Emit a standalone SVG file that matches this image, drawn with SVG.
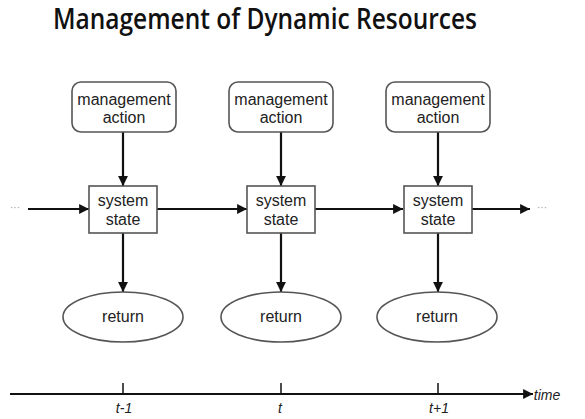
<svg xmlns="http://www.w3.org/2000/svg" width="585" height="419" viewBox="0 0 585 419">
<style>
.box{fill:#fff;stroke:#555;stroke-width:1.6}
.lbl{font-family:"Liberation Sans",Arial,sans-serif;font-size:16px;fill:#222;text-anchor:middle}
.ax{font-family:"Liberation Sans",Arial,sans-serif;font-style:italic;font-size:14px;fill:#222;text-anchor:middle}
.edge{stroke:#111;stroke-width:2.2;fill:none;marker-end:url(#ah)}
.dots{font-family:"Liberation Sans",Arial,sans-serif;font-size:10px;fill:#999}
</style>
<defs>
<marker id="ah" viewBox="0 0 10 10" refX="10" refY="5" markerWidth="4.5" markerHeight="4.5" orient="auto" markerUnits="strokeWidth">
<path d="M0,0 L10,5 L0,10 z" fill="#111"/>
</marker>
</defs>
<rect width="585" height="419" fill="#fff"/>
<text x="265" y="29" font-family="'Open Sans',sans-serif" font-size="28" font-weight="600" fill="#111" text-anchor="middle" textLength="424" lengthAdjust="spacingAndGlyphs">Management of Dynamic Resources</text>

<g id="connectors">
<line class="edge" x1="28" y1="209" x2="89" y2="209"/>
<line class="edge" x1="157" y1="209" x2="247" y2="209"/>
<line class="edge" x1="315" y1="209" x2="403" y2="209"/>
<line class="edge" x1="472" y1="209" x2="530" y2="209"/>
<line class="edge" x1="123" y1="132" x2="123" y2="186"/>
<line class="edge" x1="281" y1="132" x2="281" y2="186"/>
<line class="edge" x1="438" y1="132" x2="438" y2="186"/>
<line class="edge" x1="123" y1="233" x2="123" y2="292"/>
<line class="edge" x1="281" y1="233" x2="281" y2="292"/>
<line class="edge" x1="438" y1="233" x2="438" y2="292"/>
<line class="edge" x1="10" y1="394" x2="533" y2="394"/>
<line x1="123" y1="383" x2="123" y2="394" stroke="#111" stroke-width="1.5"/>
<line x1="281" y1="383" x2="281" y2="394" stroke="#111" stroke-width="1.5"/>
<line x1="438" y1="383" x2="438" y2="394" stroke="#111" stroke-width="1.5"/>
</g>
<text class="dots" x="10" y="211">···</text>
<text class="dots" x="537" y="211">···</text>

<g id="action1"><rect class="box" x="72" y="82" width="104" height="50" rx="9"/><text class="lbl" x="124" y="105">management</text><text class="lbl" x="124" y="123">action</text></g>
<g id="action2"><rect class="box" x="229" y="82" width="104" height="50" rx="9"/><text class="lbl" x="281" y="105">management</text><text class="lbl" x="281" y="123">action</text></g>
<g id="action3"><rect class="box" x="386" y="82" width="104" height="50" rx="9"/><text class="lbl" x="438" y="105">management</text><text class="lbl" x="438" y="123">action</text></g>

<g id="state1"><rect class="box" x="89" y="186" width="68" height="47"/><text class="lbl" x="123" y="206">system</text><text class="lbl" x="123" y="225">state</text></g>
<g id="state2"><rect class="box" x="247" y="186" width="68" height="47"/><text class="lbl" x="281" y="206">system</text><text class="lbl" x="281" y="225">state</text></g>
<g id="state3"><rect class="box" x="404" y="186" width="68" height="47"/><text class="lbl" x="438" y="206">system</text><text class="lbl" x="438" y="225">state</text></g>

<g id="return1"><ellipse class="box" cx="123" cy="317" rx="60" ry="25"/><text class="lbl" x="123" y="322">return</text></g>
<g id="return2"><ellipse class="box" cx="281" cy="317" rx="60" ry="25"/><text class="lbl" x="281" y="322">return</text></g>
<g id="return3"><ellipse class="box" cx="437" cy="317" rx="60" ry="25"/><text class="lbl" x="437" y="322">return</text></g>

<g id="axis-labels">
<text class="ax" x="124" y="413">t-1</text>
<text class="ax" x="280" y="413">t</text>
<text class="ax" x="439" y="413">t+1</text>
<text class="ax" x="547" y="400" font-size="15" text-anchor="start">time</text>
</g>
</svg>
